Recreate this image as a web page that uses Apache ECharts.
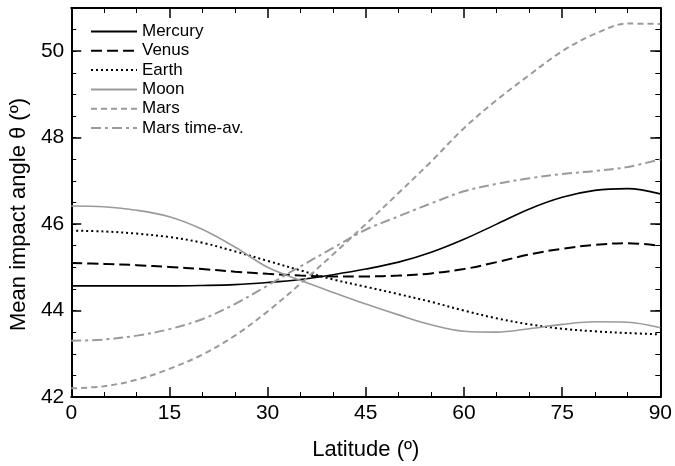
<!DOCTYPE html>
<html>
<head>
<meta charset="utf-8">
<script src="https://cdn.jsdelivr.net/npm/echarts@6/dist/echarts.min.js"></script>
<style>
html,body{margin:0;padding:0;background:#fff;}
#chart{width:675px;height:466px;}
</style>
</head>
<body>
<div id="chart"></div>
<script>
// Data
var latitudes = [0,5,10,15,20,25,30,35,40,45,50,55,60,65,70,75,80,85,90];
var mercury = [44.57,44.57,44.57,44.57,44.58,44.60,44.65,44.72,44.83,44.96,45.12,45.35,45.65,46.00,46.35,46.62,46.78,46.82,46.70];
var venus   = [45.10,45.08,45.05,45.01,44.96,44.90,44.85,44.81,44.79,44.79,44.81,44.86,44.96,45.12,45.30,45.43,45.52,45.56,45.50];
var earth   = [45.85,45.83,45.78,45.70,45.57,45.37,45.15,44.93,44.72,44.55,44.38,44.20,44.00,43.82,43.68,43.58,43.52,43.48,43.45];
var moon    = [46.42,46.40,46.32,46.17,45.88,45.47,45.00,44.70,44.42,44.15,43.90,43.67,43.52,43.50,43.58,43.68,43.74,43.73,43.60];
var mars    = [42.20,42.25,42.40,42.65,42.98,43.42,43.98,44.62,45.30,46.00,46.72,47.45,48.22,48.87,49.45,50.00,50.40,50.64,50.63];
var marsAv  = [43.30,43.33,43.42,43.57,43.80,44.15,44.58,45.02,45.45,45.87,46.18,46.48,46.76,46.93,47.06,47.16,47.23,47.32,47.50];
var seriesNames = ['Mercury','Venus','Earth','Moon','Mars','Mars time-av.'];
var xTickLabels = ['0','15','30','45','60','75','90'];
var yTickLabels = ['42','44','46','48','50'];

var FONT = "'Liberation Sans', Arial, Helvetica, sans-serif";
var GREY = '#9a9a9a';

function pairs(vals){ return latitudes.map(function(l,i){ return [l, vals[i]]; }); }

var styles = [
  {color:'#000', width:1.6, type:'solid'},
  {color:'#000', width:2, type:[11,5]},
  {color:'#000', width:2, type:[2,3]},
  {color:GREY, width:1.6, type:'solid'},
  {color:GREY, width:2, type:[6,4]},
  {color:GREY, width:2, type:[10,4,3,4]}
];
var dataSets = [mercury, venus, earth, moon, mars, marsAv];

var series = dataSets.map(function(d,i){
  return {
    name: seriesNames[i], type:'line', data: pairs(d), smooth:0.35,
    symbol:'none', xAxisIndex:0, yAxisIndex:0,
    lineStyle:{color:styles[i].color, width:styles[i].width, type:styles[i].type, cap:'butt'},
    itemStyle:{color:styles[i].color},
    emphasis:{disabled:true}, animation:false
  };
});

function xAx(pos, labels){
  return {
    type:'value', position:pos, min:0, max:90, interval:15,
    axisLine:{show:true, lineStyle:{color:'#000', width:2}},
    axisTick:{show:true, inside:true, length:10, lineStyle:{color:'#000', width:1.5}},
    minorTick:{show:true, splitNumber:3, length:5, lineStyle:{color:'#000', width:1}},
    axisLabel:{show:labels, color:'#000', fontSize:21, fontFamily:FONT, margin:6,
      formatter:function(v){ var s=String(v); return xTickLabels.indexOf(s)>=0? s : ''; }},
    splitLine:{show:false},
    name: labels ? 'Latitude (º)' : '', nameLocation:'middle', nameGap:42,
    nameTextStyle:{color:'#000', fontSize:22, fontFamily:FONT}
  };
}
function yAx(pos, major, labels){
  return {
    type:'value', position:pos, min:42, max:51, interval: major?2:0.5,
    axisLine:{show:major, lineStyle:{color:'#000', width:2}},
    axisTick:{show:true, inside:true, length: major?10:5, lineStyle:{color:'#000', width: major?1.5:1}},
    axisLabel:{show:labels, color:'#000', fontSize:21, fontFamily:FONT, margin:7,
      formatter:function(v){ var s=String(v); return yTickLabels.indexOf(s)>=0? s : ''; }},
    splitLine:{show:false},
    name: labels ? 'Mean impact angle θ (º)' : '', nameLocation:'middle', nameGap:34,
    nameTextStyle:{color:'#000', fontSize:22, fontFamily:FONT, padding:[0,24,0,0]}
  };
}

var chart = echarts.init(document.getElementById('chart'), null, {renderer:'canvas'});
chart.setOption({
  animation:false,
  backgroundColor:'#fff',
  grid:{left:70, right:12, top:8, bottom:68, containLabel:false},
  xAxis:[xAx('bottom', true), xAx('top', false)],
  yAxis:[yAx('left', true, true), yAx('left', false, false), yAx('right', true, false), yAx('right', false, false)],
  legend:{
    show:true, orient:'vertical', left:90, top:23, padding:0,
    itemWidth:46, itemHeight:12, itemGap:2.3,
    data: seriesNames,
    itemStyle:{opacity:0},
    textStyle:{color:'#000', fontSize:17, fontFamily:FONT, lineHeight:17},
    selectedMode:false
  },
  series: series
});
</script>
</body>
</html>
